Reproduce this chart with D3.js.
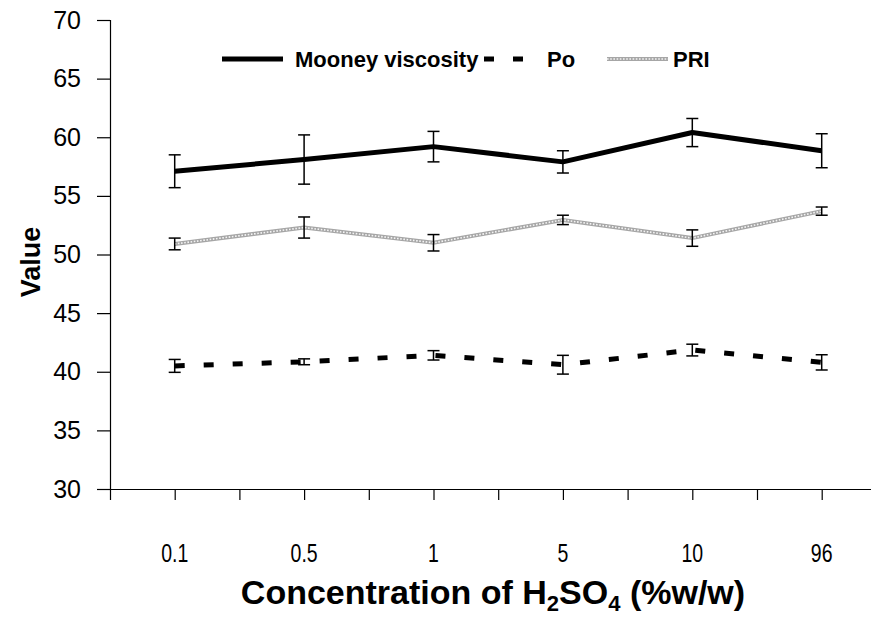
<!DOCTYPE html>
<html>
<head>
<meta charset="utf-8">
<script src="https://cdn.jsdelivr.net/npm/d3@7"></script>
<style>
  html, body { margin: 0; padding: 0; background: #fff; }
  svg { display: block; font-family: "Liberation Sans", Arial, sans-serif; }
</style>
</head>
<body>
<svg id="chart" width="871" height="618"></svg>
<script>
// Sulfuric acid concentration (%w/w)
const categories = ["0.1", "0.5", "1", "5", "10", "96"];

// Mean values and standard deviations per series
const mooneyValues = [57.1, 58.1, 59.2, 57.9, 60.4, 58.85];
const mooneyErrors = [1.4, 2.1, 1.3, 0.95, 1.2, 1.45];
const poValues     = [40.5, 40.85, 41.4, 40.6, 41.85, 40.8];
const poErrors     = [0.55, 0.25, 0.4, 0.8, 0.5, 0.65];
const priValues    = [50.9, 52.3, 51.0, 52.95, 51.4, 53.7];
const priErrors    = [0.5, 0.9, 0.7, 0.4, 0.7, 0.35];

const yTicks = [30, 35, 40, 45, 50, 55, 60, 65, 70];
const seriesNames = ["Mooney viscosity", "Po", "PRI"];

const svg = d3.select("#chart");

const plotLeft = 110, plotTop = 20, plotBottom = 489, slot = 64.7;
// Twelve tick intervals across the category axis; categories sit on odd ticks
const x = d3.scaleLinear().domain([0, 12]).range([plotLeft, plotLeft + 12 * slot]);
const catX = i => x(2 * i + 1);
const y = d3.scaleLinear().domain([30, 70]).range([plotBottom, plotTop]);

// Y axis
const yAxis = svg.append("g")
  .attr("transform", `translate(${plotLeft},0)`)
  .call(d3.axisLeft(y).tickValues(yTicks).tickSize(13).tickPadding(16).tickFormat(d3.format("d")));
yAxis.select(".domain").attr("stroke", "#000").attr("stroke-width", 1.2);
yAxis.selectAll(".tick line").attr("stroke", "#000").attr("stroke-width", 1.2);
yAxis.selectAll(".tick text")
  .attr("fill", "#000")
  .style("font-size", "25px");

// X axis (unlabelled ticks)
const xAxis = svg.append("g")
  .attr("transform", `translate(0,${plotBottom})`)
  .call(d3.axisBottom(x).tickValues(d3.range(0, 13)).tickSize(11).tickSizeOuter(0).tickFormat(""));
xAxis.select(".domain").attr("stroke", "#000").attr("stroke-width", 1.2);
xAxis.selectAll(".tick line").attr("stroke", "#000").attr("stroke-width", 1.2);

// Category labels (condensed)
svg.append("g").selectAll("text")
  .data(categories)
  .join("text")
  .attr("transform", (d, i) => `translate(${catX(i)},562) scale(0.78,1)`)
  .attr("text-anchor", "middle")
  .style("font-size", "25px")
  .text(d => d);

// Axis titles
const xTitle = svg.append("text")
  .attr("x", 493)
  .attr("y", 604)
  .attr("text-anchor", "middle")
  .style("font-size", "34px")
  .style("font-weight", "bold");
xTitle.append("tspan").text("Concentration of H");
xTitle.append("tspan").attr("dy", 7).style("font-size", "22px").text("2");
xTitle.append("tspan").attr("dy", -7).text("SO");
xTitle.append("tspan").attr("dy", 7).style("font-size", "22px").text("4");
xTitle.append("tspan").attr("dy", -7).text(" (%w/w)");

svg.append("text")
  .attr("transform", "translate(40,262) rotate(-90)")
  .attr("text-anchor", "middle")
  .style("font-size", "27px")
  .style("font-weight", "bold")
  .text("Value");

// Line generator
const line = d3.line().x((d, i) => catX(i)).y(d => y(d));

// PRI: grey textured stroke drawn as two layers
function priStroke(sel) {
  sel.append("path").attr("fill", "none").attr("stroke", "#a6a6a6").attr("stroke-width", 4);
  sel.append("path").attr("fill", "none").attr("stroke", "#f4f4f4").attr("stroke-width", 1.6)
    .attr("stroke-dasharray", "1.6,1.6");
}

const priG = svg.append("g");
priStroke(priG);
priG.selectAll("path").attr("d", line(priValues));

svg.append("path")
  .attr("d", line(mooneyValues))
  .attr("fill", "none").attr("stroke", "#000").attr("stroke-width", 5)
  .attr("stroke-linejoin", "round");

svg.append("path")
  .attr("d", line(poValues))
  .attr("fill", "none").attr("stroke", "#000").attr("stroke-width", 5)
  .attr("stroke-dasharray", "10,19");

// Error bars
function errorBars(values, errors) {
  const g = svg.append("g").attr("stroke", "#000").attr("stroke-width", 1.5);
  values.forEach((v, i) => {
    const cx = catX(i), top = y(v + errors[i]), bot = y(v - errors[i]);
    g.append("line").attr("x1", cx).attr("x2", cx).attr("y1", top).attr("y2", bot);
    g.append("line").attr("x1", cx - 6).attr("x2", cx + 6).attr("y1", top).attr("y2", top);
    g.append("line").attr("x1", cx - 6).attr("x2", cx + 6).attr("y1", bot).attr("y2", bot);
  });
}
errorBars(mooneyValues, mooneyErrors);
errorBars(priValues, priErrors);
errorBars(poValues, poErrors);

// Legend
const legendY = 59;
svg.append("line").attr("x1", 222).attr("x2", 283).attr("y1", legendY).attr("y2", legendY)
  .attr("stroke", "#000").attr("stroke-width", 5);
svg.append("line").attr("x1", 484).attr("x2", 541).attr("y1", legendY).attr("y2", legendY)
  .attr("stroke", "#000").attr("stroke-width", 5).attr("stroke-dasharray", "10,19");
const legPri = svg.append("g");
priStroke(legPri);
legPri.selectAll("path").attr("d", `M607,${legendY}H668`);

const legendText = [[295, seriesNames[0]], [547, seriesNames[1]], [673, seriesNames[2]]];
svg.append("g").selectAll("text")
  .data(legendText)
  .join("text")
  .attr("x", d => d[0])
  .attr("y", legendY + 8)
  .style("font-size", "22px")
  .style("font-weight", "bold")
  .text(d => d[1]);
</script>
</body>
</html>
